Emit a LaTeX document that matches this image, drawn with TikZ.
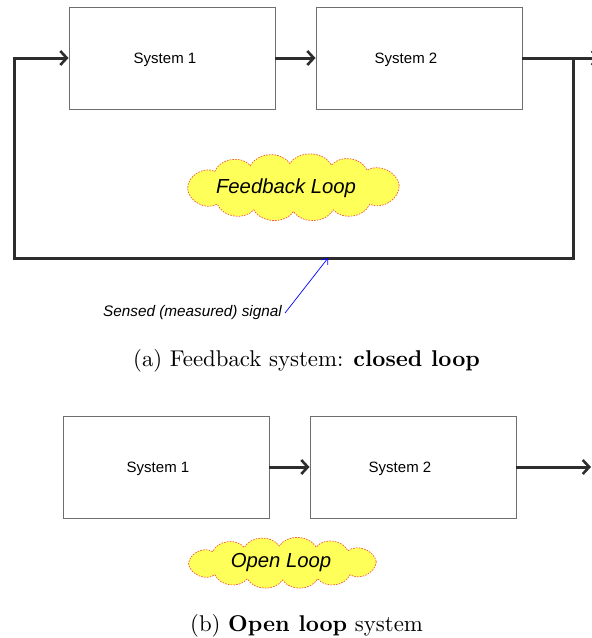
\documentclass[tikz,border=0pt]{standalone}
\usepackage{fontspec}
\newfontfamily\arialfont{Liberation Sans}
\newfontfamily\capfont{lmroman10-regular}[Extension=.otf, BoldFont=lmroman10-bold]
\usetikzlibrary{arrows.meta}
\definecolor{linegray}{RGB}{45,45,45}
\definecolor{boxgray}{RGB}{110,110,110}
\definecolor{cloudfill}{RGB}{255,255,90}
\definecolor{cloudline}{RGB}{240,90,60}
% a cloud made of puffs strung along an ellipse: #1 centre, #2 and #3 semi-axes
\newcommand\puffcloud[3]{%
  \draw[loopcloud] ([shift={(#1)}]4:#2 and #3)
    \foreach \t in {46,69,92,114,138,182,224,248,270,292,316}
      { to[bend right=58] ([shift={(#1)}]\t:#2 and #3) }
    to[bend right=58] ([shift={(#1)}]4:#2 and #3) -- cycle;}
\begin{document}
\begin{tikzpicture}[x=1pt,y=-1pt,
  sysbox/.style={draw=boxgray, line width=0.9pt, minimum width=206pt,
    minimum height=102pt, inner sep=0pt},
  systext/.style={font=\arialfont\fontsize{15}{18}\selectfont, inner sep=0pt, anchor=base},
  flow/.style={draw=linegray, line width=3pt, line join=miter,
    -{Straight Barb[length=6.5pt,width=14pt,line width=2.6pt]}},
  loopcloud/.style={draw=cloudline, dash pattern=on 1.6pt off 1.2pt, line width=0.7pt,
    fill=cloudfill},
  cloudtext/.style={font=\arialfont\itshape\fontsize{20.3}{24}\selectfont, inner sep=0pt},
  note/.style={font=\arialfont\itshape\fontsize{15.3}{18}\selectfont, inner sep=1pt},
  sense/.style={draw=blue, line width=0.7pt,
    -{Straight Barb[length=5pt,width=8pt,line width=0.7pt]}},
  caption/.style={font=\capfont\fontsize{22.8}{27}\selectfont, inner sep=0pt}
]
\useasboundingbox (0,0) rectangle (592,638);
\clip (0,0) rectangle (592,638);

% ---- closed loop: two systems with a feedback path ----
\node[sysbox] (a1) at (172,58) {};
\node[sysbox] (a2) at (419,58) {};
\node[systext] (a1t) at (165,63.5) {System 1};
\node[systext] (a2t) at (406,63.5) {System 2};

\coordinate (aout) at (600,58);
\coordinate (tap) at (573,58);
\coordinate (bR) at (573,258);
\coordinate (bL) at (14,258);
\coordinate (tL) at (14,58);
\coordinate (sensept) at (328,258);

\draw[flow] (a1.east) -- (a2.west);
\draw[flow] (a2.east) -- (aout);
\draw[flow] (tap) -- (bR) -- (bL) -- (tL) -- (a1.west);

\coordinate (fbc) at (293.5,187.5);
\puffcloud{fbc}{106pt}{24pt}
\node[cloudtext] (fbtext) at (286,188) {Feedback Loop};

\node[note, anchor=base west] (sensed) at (102,316) {Sensed (measured) signal};
\draw[sense] ([xshift=2pt,yshift=-1pt]sensed.east) -- (sensept);

\node[caption, anchor=base west] (capa) at (133,366)
  {(a) Feedback system: \textbf{closed loop}};

% ---- open loop: two systems in series ----
\node[sysbox] (b1) at (166,467) {};
\node[sysbox] (b2) at (413,467) {};
\node[systext] (b1t) at (158,472.5) {System 1};
\node[systext] (b2t) at (400,472.5) {System 2};

\coordinate (bout) at (591,467);
\draw[flow] (b1.east) -- (b2.west);
\draw[flow] (b2.east) -- (bout);

\coordinate (olc) at (282.5,563);
\puffcloud{olc}{94pt}{17pt}
\node[cloudtext] (oltext) at (281,563) {Open Loop};

\node[caption, anchor=base west] (capb) at (190,631)
  {(b) \textbf{Open loop} system};
\end{tikzpicture}
\end{document}
